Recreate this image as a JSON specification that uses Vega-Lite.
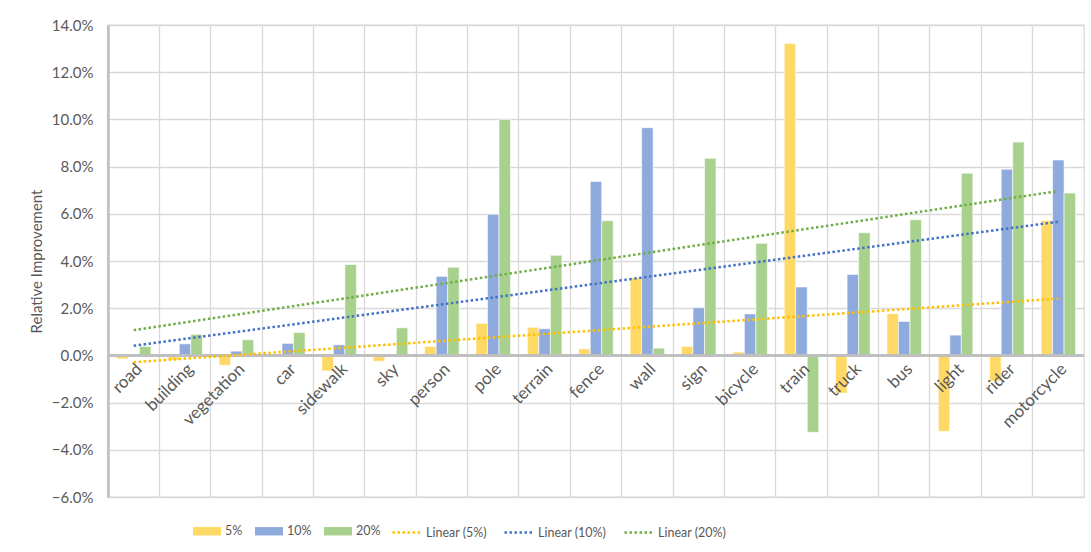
{
  "$schema": "https://vega.github.io/schema/vega-lite/v6.json",
  "width": 976,
  "height": 472,
  "autosize": {"type": "none"},
  "padding": {"left": 108, "top": 25, "right": 7, "bottom": 55},
  "background": "white",
  "config": {
    "font": "Lato",
    "view": {"stroke": "#d9d9d9", "strokeWidth": 1.3},
    "axis": {
      "labelFont": "Lato",
      "titleFont": "Lato",
      "labelColor": "#595959",
      "titleColor": "#595959",
      "gridColor": "#d9d9d9",
      "gridWidth": 1.3
    },
    "legend": {"labelFont": "Lato", "labelColor": "#595959"}
  },
  "data": {
    "values": [
      {"cls": "road", "idx": 1, "series": "5%", "trend": "Linear (5%)", "value": -0.0015},
      {"cls": "road", "idx": 1, "series": "10%", "trend": "Linear (10%)", "value": 0.0},
      {"cls": "road", "idx": 1, "series": "20%", "trend": "Linear (20%)", "value": 0.0038},
      {"cls": "building", "idx": 2, "series": "5%", "trend": "Linear (5%)", "value": -0.002},
      {"cls": "building", "idx": 2, "series": "10%", "trend": "Linear (10%)", "value": 0.0049},
      {"cls": "building", "idx": 2, "series": "20%", "trend": "Linear (20%)", "value": 0.0089},
      {"cls": "vegetation", "idx": 3, "series": "5%", "trend": "Linear (5%)", "value": -0.0042},
      {"cls": "vegetation", "idx": 3, "series": "10%", "trend": "Linear (10%)", "value": 0.0018},
      {"cls": "vegetation", "idx": 3, "series": "20%", "trend": "Linear (20%)", "value": 0.0066},
      {"cls": "car", "idx": 4, "series": "5%", "trend": "Linear (5%)", "value": 0.0},
      {"cls": "car", "idx": 4, "series": "10%", "trend": "Linear (10%)", "value": 0.0051},
      {"cls": "car", "idx": 4, "series": "20%", "trend": "Linear (20%)", "value": 0.0097},
      {"cls": "sidewalk", "idx": 5, "series": "5%", "trend": "Linear (5%)", "value": -0.0066},
      {"cls": "sidewalk", "idx": 5, "series": "10%", "trend": "Linear (10%)", "value": 0.0045},
      {"cls": "sidewalk", "idx": 5, "series": "20%", "trend": "Linear (20%)", "value": 0.0385},
      {"cls": "sky", "idx": 6, "series": "5%", "trend": "Linear (5%)", "value": -0.0025},
      {"cls": "sky", "idx": 6, "series": "10%", "trend": "Linear (10%)", "value": 0.0},
      {"cls": "sky", "idx": 6, "series": "20%", "trend": "Linear (20%)", "value": 0.0117},
      {"cls": "person", "idx": 7, "series": "5%", "trend": "Linear (5%)", "value": 0.0038},
      {"cls": "person", "idx": 7, "series": "10%", "trend": "Linear (10%)", "value": 0.0335},
      {"cls": "person", "idx": 7, "series": "20%", "trend": "Linear (20%)", "value": 0.0373},
      {"cls": "pole", "idx": 8, "series": "5%", "trend": "Linear (5%)", "value": 0.0136},
      {"cls": "pole", "idx": 8, "series": "10%", "trend": "Linear (10%)", "value": 0.0598},
      {"cls": "pole", "idx": 8, "series": "20%", "trend": "Linear (20%)", "value": 0.1},
      {"cls": "terrain", "idx": 9, "series": "5%", "trend": "Linear (5%)", "value": 0.0119},
      {"cls": "terrain", "idx": 9, "series": "10%", "trend": "Linear (10%)", "value": 0.0113},
      {"cls": "terrain", "idx": 9, "series": "20%", "trend": "Linear (20%)", "value": 0.0424},
      {"cls": "fence", "idx": 10, "series": "5%", "trend": "Linear (5%)", "value": 0.0028},
      {"cls": "fence", "idx": 10, "series": "10%", "trend": "Linear (10%)", "value": 0.0737},
      {"cls": "fence", "idx": 10, "series": "20%", "trend": "Linear (20%)", "value": 0.0571},
      {"cls": "wall", "idx": 11, "series": "5%", "trend": "Linear (5%)", "value": 0.0329},
      {"cls": "wall", "idx": 11, "series": "10%", "trend": "Linear (10%)", "value": 0.0965},
      {"cls": "wall", "idx": 11, "series": "20%", "trend": "Linear (20%)", "value": 0.0031},
      {"cls": "sign", "idx": 12, "series": "5%", "trend": "Linear (5%)", "value": 0.0038},
      {"cls": "sign", "idx": 12, "series": "10%", "trend": "Linear (10%)", "value": 0.0202},
      {"cls": "sign", "idx": 12, "series": "20%", "trend": "Linear (20%)", "value": 0.0835},
      {"cls": "bicycle", "idx": 13, "series": "5%", "trend": "Linear (5%)", "value": 0.0014},
      {"cls": "bicycle", "idx": 13, "series": "10%", "trend": "Linear (10%)", "value": 0.0176},
      {"cls": "bicycle", "idx": 13, "series": "20%", "trend": "Linear (20%)", "value": 0.0475},
      {"cls": "train", "idx": 14, "series": "5%", "trend": "Linear (5%)", "value": 0.1322},
      {"cls": "train", "idx": 14, "series": "10%", "trend": "Linear (10%)", "value": 0.029},
      {"cls": "train", "idx": 14, "series": "20%", "trend": "Linear (20%)", "value": -0.0326},
      {"cls": "truck", "idx": 15, "series": "5%", "trend": "Linear (5%)", "value": -0.016},
      {"cls": "truck", "idx": 15, "series": "10%", "trend": "Linear (10%)", "value": 0.0343},
      {"cls": "truck", "idx": 15, "series": "20%", "trend": "Linear (20%)", "value": 0.052},
      {"cls": "bus", "idx": 16, "series": "5%", "trend": "Linear (5%)", "value": 0.0177},
      {"cls": "bus", "idx": 16, "series": "10%", "trend": "Linear (10%)", "value": 0.0144},
      {"cls": "bus", "idx": 16, "series": "20%", "trend": "Linear (20%)", "value": 0.0575},
      {"cls": "light", "idx": 17, "series": "5%", "trend": "Linear (5%)", "value": -0.0322},
      {"cls": "light", "idx": 17, "series": "10%", "trend": "Linear (10%)", "value": 0.0086},
      {"cls": "light", "idx": 17, "series": "20%", "trend": "Linear (20%)", "value": 0.0772},
      {"cls": "rider", "idx": 18, "series": "5%", "trend": "Linear (5%)", "value": -0.0109},
      {"cls": "rider", "idx": 18, "series": "10%", "trend": "Linear (10%)", "value": 0.0789},
      {"cls": "rider", "idx": 18, "series": "20%", "trend": "Linear (20%)", "value": 0.0904},
      {"cls": "motorcycle", "idx": 19, "series": "5%", "trend": "Linear (5%)", "value": 0.0572},
      {"cls": "motorcycle", "idx": 19, "series": "10%", "trend": "Linear (10%)", "value": 0.0828},
      {"cls": "motorcycle", "idx": 19, "series": "20%", "trend": "Linear (20%)", "value": 0.0688}
    ]
  },
  "resolve": {"scale": {"x": "independent"}},
  "layer": [
    {
      "mark": {"type": "bar", "stroke": "white", "strokeWidth": 0.6},
      "encoding": {
        "x": {
          "field": "cls",
          "type": "nominal",
          "sort": {"field": "idx"},
          "scale": {"paddingInner": 0, "paddingOuter": 0},
          "axis": {
            "title": null,
            "labels": false,
            "ticks": false,
            "domain": false,
            "grid": true,
            "bandPosition": 0
          }
        },
        "xOffset": {
          "field": "series",
          "type": "nominal",
          "sort": ["5%", "10%", "20%"],
          "scale": {"paddingInner": 0, "paddingOuter": 0.73}
        },
        "y": {
          "field": "value",
          "type": "quantitative",
          "scale": {"domain": [-0.06, 0.14], "nice": false, "zero": false},
          "axis": {
            "title": "Relative Improvement",
            "values": [-0.06, -0.04, -0.02, 0, 0.02, 0.04, 0.06, 0.08, 0.1, 0.12, 0.14],
            "format": ".1%",
            "labelFontSize": 15,
            "labelPadding": 15,
            "ticks": false,
            "domainColor": "#bfbfbf",
            "domainWidth": 2.5,
            "titleFontSize": 15,
            "titleFontWeight": "normal",
            "titlePadding": 7
          }
        },
        "fill": {
          "field": "series",
          "type": "nominal",
          "scale": {
            "domain": ["5%", "10%", "20%"],
            "range": ["#FFD966", "#8FAADC", "#A9D18E"]
          },
          "legend": {
            "title": null,
            "orient": "none",
            "direction": "horizontal",
            "legendX": 85,
            "legendY": 492,
            "labelFontSize": 12.5,
            "labelOffset": 4,
            "columnPadding": 12,
            "symbolType": "M-1,-0.3H1V0.3H-1Z",
            "symbolSize": 784,
            "symbolStrokeWidth": 0,
            "symbolOpacity": 1
          }
        }
      }
    },
    {
      "mark": {"type": "rule", "color": "#bfbfbf", "strokeWidth": 2.5},
      "encoding": {"y": {"datum": 0}}
    },
    {
      "transform": [{"filter": "datum.series == '5%'"}],
      "mark": {
        "type": "text",
        "angle": -45,
        "align": "right",
        "baseline": "middle",
        "dx": -4,
        "dy": 12,
        "font": "Lato",
        "fontSize": 17,
        "color": "#595959"
      },
      "encoding": {
        "x": {
          "field": "cls",
          "type": "nominal",
          "sort": {"field": "idx"},
          "scale": {"paddingInner": 0, "paddingOuter": 0},
          "axis": null
        },
        "y": {"datum": 0},
        "text": {"field": "cls"}
      }
    },
    {
      "transform": [{"regression": "value", "on": "idx", "groupby": ["trend"], "method": "linear"}],
      "mark": {"type": "line", "strokeWidth": 2.5, "strokeDash": [2.5, 2.5]},
      "encoding": {
        "x": {
          "field": "idx",
          "type": "quantitative",
          "scale": {"domain": [0.5, 19.5], "nice": false, "zero": false},
          "axis": null
        },
        "y": {"field": "value", "type": "quantitative"},
        "stroke": {
          "field": "trend",
          "type": "nominal",
          "scale": {
            "domain": ["Linear (5%)", "Linear (10%)", "Linear (20%)"],
            "range": ["#FFC000", "#4472C4", "#70AD47"]
          },
          "legend": {
            "title": null,
            "orient": "none",
            "direction": "horizontal",
            "legendX": 283,
            "legendY": 492,
            "labelFontSize": 12.5,
            "labelOffset": 4,
            "columnPadding": 12,
            "symbolType": "stroke",
            "symbolSize": 784,
            "symbolStrokeWidth": 2.5,
            "symbolDash": [2.5, 2.5],
            "symbolOpacity": 1
          }
        }
      }
    }
  ]
}
